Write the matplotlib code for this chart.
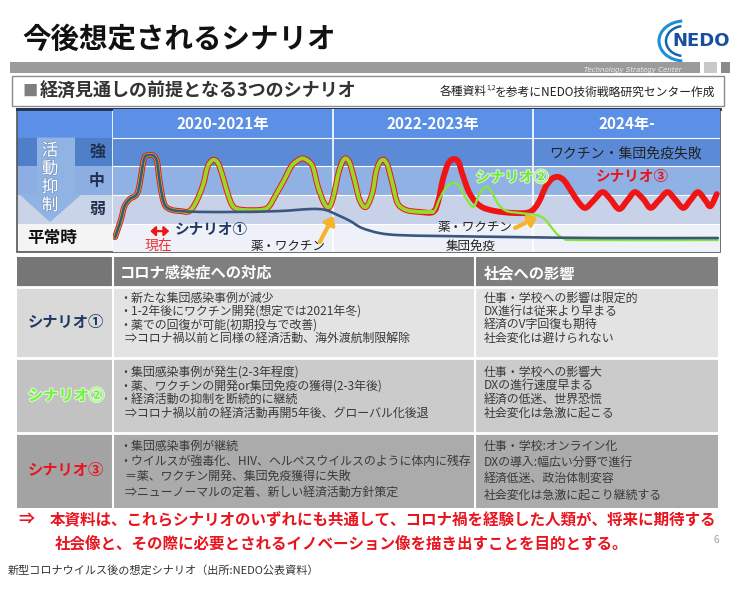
import matplotlib
matplotlib.use('Agg')
import matplotlib.pyplot as plt
from matplotlib.patches import Rectangle, Polygon, PathPatch, Arc, FancyArrowPatch
from matplotlib.path import Path
import matplotlib.patheffects as pe

plt.rcParams['font.family'] = ['Noto Sans CJK JP', 'DejaVu Sans']

# ---- chart data (x: year, y: activity-suppression level 0=平常時 .. 3=強) ----
periods = ['2020-2021年', '2022-2023年', '2024年-']
period_edges = [2020.0, 2022.1, 2024.0, 2025.781]
level_names = ['平常時', '弱', '中', '強']

# first wave, shared by all three scenarios
common_x = [2020.02, 2020.05, 2020.08, 2020.11, 2020.16, 2020.21, 2020.24, 2020.27,
            2020.29, 2020.31, 2020.35, 2020.39, 2020.42, 2020.44, 2020.47, 2020.50,
            2020.56, 2020.64]
common_y = [0.03, 0.35, 0.70, 1.11, 1.36, 1.46, 1.64, 2.23,
            2.68, 2.86, 2.89, 2.86, 2.65, 2.09, 1.43, 1.11,
            0.98, 0.94]

# scenario 1 after the first wave
s1_x = [2020.83, 2021.21, 2021.59, 2021.88, 2022.02, 2022.14, 2022.26, 2022.37,
        2022.54, 2022.73, 2023.11, 2023.88, 2024.64, 2025.76]
s1_y = [0.91, 0.91, 0.94, 1.01, 0.98, 0.80, 0.59, 0.35,
        0.17, 0.10, 0.07, 0.03, 0.00, 0.00]

# waves shared by scenario 2 and 3
s23_x = [2020.73, 2020.80, 2020.86, 2020.90, 2020.95, 2021.00, 2021.05, 2021.10,
         2021.15, 2021.24, 2021.40, 2021.48, 2021.55, 2021.63, 2021.70, 2021.78,
         2021.83, 2021.90, 2021.95, 2022.01, 2022.06, 2022.10, 2022.15, 2022.20,
         2022.25, 2022.30, 2022.35, 2022.41, 2022.47, 2022.51, 2022.56, 2022.61,
         2022.66, 2022.71, 2022.79, 2022.92, 2023.05]
s23_y = [0.94, 1.32, 1.88, 2.47, 2.72, 2.61, 2.09, 1.46,
         1.08, 0.98, 0.98, 1.08, 1.50, 2.02, 2.51, 2.75,
         2.75, 2.51, 1.81, 1.22, 1.08, 1.46, 2.30, 2.75,
         2.65, 2.02, 1.32, 1.08, 1.57, 2.37, 2.72, 2.58,
         1.92, 1.22, 0.98, 0.91, 0.91]

# scenario 2 tail
s2_x = [2023.11, 2023.17, 2023.23, 2023.29, 2023.34, 2023.40, 2023.44, 2023.49,
        2023.55, 2023.60, 2023.67, 2023.75, 2023.88, 2024.03, 2024.11, 2024.18,
        2024.24, 2024.31, 2024.45, 2025.76]
s2_y = [1.36, 1.74, 1.92, 1.85, 1.53, 1.18, 1.11, 1.53,
        1.78, 1.64, 1.18, 0.94, 0.87, 0.80, 0.66, 0.35,
        0.10, -0.03, -0.07, -0.07]

# scenario 3 tail
s3_x = [2023.10, 2023.14, 2023.19, 2023.24, 2023.29, 2023.33, 2023.40, 2023.50,
        2023.64, 2023.83, 2023.97, 2024.05, 2024.12, 2024.18, 2024.24, 2024.30,
        2024.37, 2024.44, 2024.50, 2024.58, 2024.66, 2024.73, 2024.82, 2024.90,
        2024.97, 2025.05, 2025.12, 2025.20, 2025.28, 2025.35, 2025.43, 2025.50,
        2025.57, 2025.64, 2025.69, 2025.75]
s3_y = [1.32, 2.02, 2.58, 2.75, 2.65, 2.20, 1.53, 1.11,
        0.94, 0.87, 0.91, 1.22, 1.78, 2.06, 2.13, 1.99,
        1.60, 1.22, 1.05, 1.32, 1.60, 1.39, 1.01, 1.32,
        1.60, 1.36, 1.05, 1.32, 1.60, 1.36, 1.05, 1.32,
        1.60, 1.32, 1.11, 1.53]

# ---- table data ----
table_header = ['コロナ感染症への対応', '社会への影響']
scenario_names = ['シナリオ①', 'シナリオ②', 'シナリオ③']
scenario_colors = ['#1F3864', '#6CF53A', '#E8141E']
responses = [
    ['・新たな集団感染事例が減少',
     '・1-2年後にワクチン開発(想定では2021年冬)',
     '・薬での回復が可能(初期投与で改善)',
     '\u2002⇒コロナ禍以前と同様の経済活動、海外渡航制限解除'],
    ['・集団感染事例が発生(2-3年程度)',
     '・薬、ワクチンの開発or集団免疫の獲得(2-3年後)',
     '・経済活動の抑制を断続的に継続',
     '\u2002⇒コロナ禍以前の経済活動再開5年後、グローバル化後退'],
    ['・集団感染事例が継続',
     '・ウイルスが強毒化、HIV、ヘルペスウイルスのように体内に残存',
     '\u2002＝薬、ワクチン開発、集団免疫獲得に失敗',
     '\u2002⇒ニューノーマルの定着、新しい経済活動方針策定'],
]
impacts = [
    ['仕事・学校への影響は限定的', 'DX進行は従来より早まる', '経済のV字回復も期待', '社会変化は避けられない'],
    ['仕事・学校への影響大', 'DXの進行速度早まる', '経済の低迷、世界恐慌', '社会変化は急激に起こる'],
    ['仕事・学校:オンライン化', 'DXの導入:幅広い分野で進行', '経済低迷、政治体制変容', '社会変化は急激に起こり継続する'],
]
conclusion = ['本資料は、これらシナリオのいずれにも共通して、コロナ禍を経験した人類が、将来に期待する',
              '社会像と、その際に必要とされるイノベーション像を描き出すことを目的とする。']


def smooth_path(xs, ys):
    # Catmull-Rom through the read points, drawn as bezier segments
    n = len(xs)
    verts = [(xs[0], ys[0])]
    codes = [Path.MOVETO]
    for i in range(n - 1):
        a, b = max(i - 1, 0), min(i + 2, n - 1)
        c1 = (xs[i] + (xs[i + 1] - xs[a]) / 6, ys[i] + (ys[i + 1] - ys[a]) / 6)
        c2 = (xs[i + 1] - (xs[b] - xs[i]) / 6, ys[i + 1] - (ys[b] - ys[i]) / 6)
        verts += [c1, c2, (xs[i + 1], ys[i + 1])]
        codes += [Path.CURVE4] * 3
    return Path(verts, codes)


fig = plt.figure(figsize=(7.4, 6.02), dpi=100)
bg = fig.add_axes([0, 0, 1, 1])
bg.set_xlim(0, 740)
bg.set_ylim(602, 0)
bg.axis('off')

# title + logo
bg.text(22, 40, '今後想定されるシナリオ', fontsize=20.5, fontweight='bold', va='center', color='#111111')
bg.add_patch(Arc((684, 41), 50, 40, theta1=95, theta2=265, color='#1E90D6', lw=2.2))
bg.add_patch(Arc((684, 41), 36, 30, theta1=100, theta2=260, color='#1565B5', lw=1.8))
bg.text(672, 41, 'NEDO', fontsize=13, fontweight='bold', color='#1A4FA0', va='center',
        family=['DejaVu Sans'])

# grey band
bg.add_patch(Rectangle((10, 62), 690, 11, color='#9B9B9B', lw=0))
bg.add_patch(Rectangle((704, 62), 13, 11, color='#C8C8C8', lw=0))
bg.add_patch(Rectangle((721, 62), 9, 11, color='#8A8A8A', lw=0))
bg.text(682, 70, 'Technology Strategy Center', fontsize=5, style='italic', color='#EEEEEE',
        ha='right', va='center', family=['DejaVu Sans'])

# subtitle box
bg.add_patch(Rectangle((12, 76), 712, 30, facecolor='white', edgecolor='#8C8C8C', lw=1))
bg.text(22, 91, '■', fontsize=11, color='#7F7F7F', va='center')
bg.text(40, 91, '経済見通しの前提となる3つのシナリオ', fontsize=13, fontweight='bold', color='#333333', va='center')
bg.text(440, 92, '各種資料', fontsize=8.5, color='#222222', va='center')
bg.text(486, 88, '1,2', fontsize=5, color='#222222', va='center')
bg.text(495, 92, 'を参考にNEDO技術戦略研究センター作成', fontsize=8.5, color='#222222', va='center')

# ---- timeline chart ----
row_px = [109.2, 137.5, 166.2, 195.0, 223.7, 252.35]
ax = fig.add_axes([113 / 740, (602 - 252.35) / 602, 607 / 740, 143.15 / 602])
ax.set_xlim(period_edges[0], period_edges[-1])
ax.set_ylim(-0.5, 4.49)
ax.axis('off')

row_colors = ['#EEF1F8', '#C7D2E8', '#8FB1E4', '#5B8AD6']
label_colors = ['#F4F4F4', '#C9D4E8', '#8CAEE2', '#4F7FC8']
for i, c in enumerate(row_colors):
    ax.axhspan(i - 0.5, i + 0.5, color=c, lw=0, zorder=0)
ax.axhspan(3.5, 4.49, color='#5C8FE6', lw=0, zorder=0)
for i in range(4):
    ax.axhline(i + 0.5, color='white', lw=0.8, zorder=1)
for e in period_edges[1:-1]:
    ax.axvline(e, color='white', lw=1.2, zorder=1)
for i, p in enumerate(periods):
    ax.text((period_edges[i] + period_edges[i + 1]) / 2, 3.98, p, ha='center', va='center',
            color='white', fontsize=11, fontweight='bold')

# label column
bg.add_patch(Rectangle((17, row_px[0]), 96, row_px[1] - row_px[0], color='#5C8FE6', lw=0))
for i in range(4):
    top = row_px[4 - i]
    bot = row_px[5 - i]
    bg.add_patch(Rectangle((17, top), 96, bot - top, color=label_colors[i], lw=0))
bg.add_patch(Polygon([(37, 137.5), (75, 137.5), (75, 194), (82, 194), (50, 222), (19, 194), (37, 194)],
                     closed=True, color='#8FB4E3', lw=0, zorder=2))
for k, ch in enumerate('活動抑制'):
    bg.text(50, 151 + 18.2 * k, ch, fontsize=12, color='white', ha='center', va='center', zorder=3,
            path_effects=[pe.withStroke(linewidth=1.2, foreground='#7D9CCB')])
for i, name in enumerate(level_names[1:]):
    bg.text(97, (row_px[4 - i - 1] + row_px[5 - i - 1]) / 2, name, fontsize=11.5, fontweight='bold',
            color='#1F3050', ha='center', va='center', zorder=3)
bg.text(52, 238, level_names[0], fontsize=12, fontweight='bold', color='#111111', ha='center', va='center')
bg.plot([113, 113], [row_px[0], row_px[-1]], color='white', lw=1.2)
bg.add_patch(Rectangle((17, row_px[0]), 703, row_px[-1] - row_px[0], fill=False, edgecolor='#555555', lw=1.2, zorder=4))
bg.plot([17, 720], [row_px[0], row_px[0]], color='#1F3050', lw=2, zorder=5)

# curves
red_x = common_x + s23_x + s3_x
red_y = common_y + s23_y + s3_y
lime_x = common_x + s23_x + s2_x
lime_y = common_y + s23_y + s2_y
blue_x = common_x + s1_x
blue_y = common_y + s1_y
ax.add_patch(PathPatch(smooth_path(red_x, red_y), fill=False, edgecolor='#F01414', lw=4.2,
                       capstyle='round', joinstyle='round', zorder=3))
ax.add_patch(PathPatch(smooth_path(lime_x, lime_y), fill=False, edgecolor='#86E63E', lw=1.7,
                       capstyle='round', joinstyle='round', zorder=4))
ax.add_patch(PathPatch(smooth_path(common_x + s23_x, common_y + s23_y), fill=False, edgecolor='#98D82C',
                       lw=2.8, capstyle='round', joinstyle='round', zorder=4))
ax.add_patch(PathPatch(smooth_path(blue_x, blue_y), fill=False, edgecolor='#3B5780', lw=1.9,
                       capstyle='round', joinstyle='round', zorder=5))

# annotations
ax.add_patch(FancyArrowPatch((2020.355, 0.24), (2020.535, 0.24),
                             arrowstyle='<|-|>,head_length=0.3,head_width=0.28',
                             color='#F01414', lw=1.6, mutation_scale=10, shrinkA=0, shrinkB=0, zorder=6))
ax.text(2020.43, -0.26, '現在', color='#F03030', fontsize=10, ha='center', va='center', zorder=6)
ax.text(2020.94, 0.31, 'シナリオ①', color='#1F3864', fontsize=10.5, fontweight='bold', ha='center', va='center', zorder=6)
ax.text(2021.67, -0.28, '薬・ワクチン', color='#222222', fontsize=9, ha='center', va='center', zorder=6)
ax.add_patch(FancyArrowPatch((2021.97, -0.14), (2022.10, 0.77),
                             arrowstyle='-|>,head_length=0.45,head_width=0.35',
                             color='#F7B32B', lw=3, mutation_scale=10, shrinkA=0, shrinkB=0, zorder=6))
ax.text(2023.80, 2.13, 'シナリオ②', color='#6EE83A', fontsize=10.5, fontweight='bold', ha='center', va='center',
        zorder=6, path_effects=[pe.withStroke(linewidth=1.5, foreground='#D8F5C8')])
ax.text(2024.95, 2.16, 'シナリオ③', color='#E8141E', fontsize=10.5, fontweight='bold', ha='center', va='center', zorder=6)
ax.text(2024.88, 2.96, 'ワクチン・集団免疫失敗', color='#222222', fontsize=10, ha='center', va='center', zorder=6)
ax.text(2023.45, 0.38, '薬・ワクチン', color='#222222', fontsize=9, ha='center', va='center', zorder=6)
ax.text(2023.41, -0.28, '集団免疫', color='#222222', fontsize=9, ha='center', va='center', zorder=6)
ax.add_patch(FancyArrowPatch((2023.83, 0.35), (2024.04, 0.73),
                             arrowstyle='-|>,head_length=0.45,head_width=0.35',
                             color='#F7B32B', lw=3, mutation_scale=10, shrinkA=0, shrinkB=0, zorder=6))

# ---- table ----
tx = [17, 113, 475, 718]
ty = [257, 287, 358, 433, 508]
head_col = ['#767676', '#7F7F7F', '#7F7F7F']
row_cols = [['#D9D9D9', '#E3E3E3', '#E3E3E3'],
            ['#C2C2C2', '#CBCBCB', '#CBCBCB'],
            ['#A3A3A3', '#ABABAB', '#ABABAB']]
for j in range(3):
    bg.add_patch(Rectangle((tx[j], ty[0]), tx[j + 1] - tx[j], ty[1] - ty[0], color=head_col[j], lw=0))
    for r in range(3):
        bg.add_patch(Rectangle((tx[j], ty[r + 1]), tx[j + 1] - tx[j], ty[r + 2] - ty[r + 1],
                               color=row_cols[r][j], lw=0))
for y in ty[1:4]:
    bg.plot([tx[0], tx[-1]], [y, y], color='white', lw=2)
for x in tx[1:3]:
    bg.plot([x, x], [ty[0], ty[-1]], color='white', lw=1.5)
bg.text(120, 273, table_header[0], color='white', fontsize=11, fontweight='bold', va='center')
bg.text(484, 273, table_header[1], color='white', fontsize=11, fontweight='bold', va='center')

line_start = [11, 14, 13]
line_step = [[13.4, 13.4], [13.7, 13.7], [15.3, 16.2]]
name_effects = [None, [pe.withStroke(linewidth=1.6, foreground='#DDF7CF')], None]
for r in range(3):
    cy = (ty[r + 1] + ty[r + 2]) / 2
    bg.text(66, cy, scenario_names[r], color=scenario_colors[r], fontsize=11, fontweight='bold',
            ha='center', va='center', path_effects=name_effects[r])
    for k, line in enumerate(responses[r]):
        bg.text(119, ty[r + 1] + line_start[r] + line_step[r][0] * k, line, color='#3A3A3A',
                fontsize=8.6, va='center')
    for k, line in enumerate(impacts[r]):
        bg.text(484, ty[r + 1] + line_start[r] + line_step[r][1] * k, line, color='#3A3A3A',
                fontsize=8.6, va='center')

# conclusion
bg.text(18, 520, '⇒', color='#E8141E', fontsize=11.5, fontweight='bold', va='center')
bg.text(50, 520, conclusion[0], color='#E8141E', fontsize=11.2, fontweight='bold', va='center')
bg.text(55, 544, conclusion[1], color='#E8141E', fontsize=11.2, fontweight='bold', va='center')
bg.text(716, 540, '6', color='#A0A0A0', fontsize=7, ha='center', va='center')

bg.text(8, 570, '新型コロナウイルス後の想定シナリオ（出所:NEDO公表資料）', color='#333333', fontsize=8, va='center')

fig.savefig('out.png', dpi=100)
